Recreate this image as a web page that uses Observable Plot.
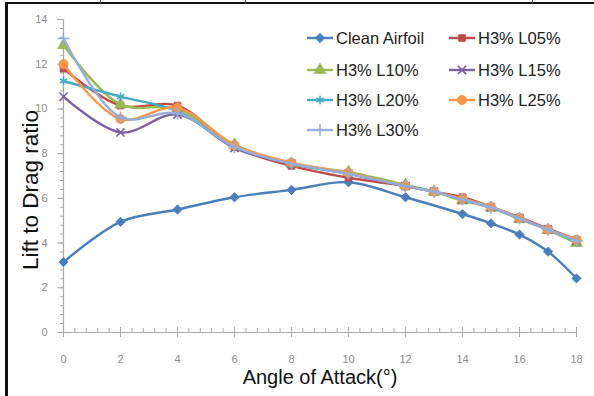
<!DOCTYPE html>
<html>
<head>
<meta charset="utf-8">
<script src="https://cdn.jsdelivr.net/npm/d3@7"></script>
<script src="https://cdn.jsdelivr.net/npm/@observablehq/plot@0.6"></script>
<style>
  body { margin: 0; background: #fff; }
  #wrap { position: relative; width: 594px; height: 396px; overflow: hidden; background: #fff;
          font-family: "Liberation Sans", Arial, sans-serif; }
  #wrap svg.plot { position: absolute; left: 0; top: 0; }
  .frame-top { position: absolute; left: 5px; top: 2px; width: 589px; height: 2px; background: #111; }
  .frame-left { position: absolute; left: 5px; top: 2px; width: 2.5px; height: 394px; background: #111; }
  .frame-tick { position: absolute; top: 0; width: 1px; height: 3px; background: #555; }
  .legend { position: absolute; left: 0; top: 0; }
  .legend .item { position: absolute; display: flex; align-items: center; height: 20px;
                  font-size: 16.5px; color: #222; white-space: nowrap; }
  .legend .item svg { margin-right: 2px; }
</style>
</head>
<body>
<div id="wrap">
  <div class="frame-top"></div>
  <div class="frame-left"></div>
  <div class="frame-tick" style="left:100px"></div>
  <div class="frame-tick" style="left:245px"></div>
  <div class="frame-tick" style="left:532px"></div>
</div>
<script>
// Angle of attack (degrees) sampled for each configuration
const anglesClean = [0, 2, 4, 6, 8, 10, 12, 14, 15, 16, 17, 18];
const anglesFlap  = [0, 2, 4, 6, 8, 10, 12, 13, 14, 15, 16, 17, 18];

// Lift-to-drag ratio per configuration
const cleanAirfoil = [3.15, 4.95, 5.5, 6.05, 6.38, 6.72, 6.05, 5.3, 4.88, 4.38, 3.62, 2.42];
const h3L05 = [11.8, 10.15, 10.15, 8.3, 7.45, 6.92, 6.55, 6.3, 6.05, 5.62, 5.15, 4.65, 4.15];
const h3L10 = [12.85, 10.2, 10.0, 8.4, 7.55, 7.18, 6.6, 6.3, 5.9, 5.58, 5.08, 4.58, 4.0];
const h3L15 = [10.55, 8.95, 9.75, 8.25, 7.55, 7.1, 6.55, 6.3, 5.95, 5.6, 5.1, 4.6, 4.1];
const h3L20 = [11.25, 10.55, 9.9, 8.35, 7.55, 7.1, 6.55, 6.3, 5.95, 5.6, 5.1, 4.6, 4.1];
const h3L25 = [12.0, 9.55, 10.05, 8.38, 7.6, 7.14, 6.55, 6.3, 5.98, 5.62, 5.12, 4.6, 4.15];
const h3L30 = [13.15, 9.62, 9.8, 8.3, 7.55, 7.1, 6.55, 6.3, 5.95, 5.6, 5.1, 4.6, 4.1];

const seriesNames   = ["Clean Airfoil", "H3% L05%", "H3% L10%", "H3% L15%", "H3% L20%", "H3% L25%", "H3% L30%"];
const seriesValues  = [cleanAirfoil, h3L05, h3L10, h3L15, h3L20, h3L25, h3L30];
const seriesAngles  = [anglesClean, anglesFlap, anglesFlap, anglesFlap, anglesFlap, anglesFlap, anglesFlap];
const seriesColors  = ["#4a7ebb", "#be4b48", "#98b954", "#7d60a0", "#46aac5", "#f79646", "#95add9"];
const seriesSymbols = ["diamond2", "square", "triangle", "times", "asterisk", "circle", "plus"];
const symbolFilled  = [true, true, true, false, false, true, false];
const symbolRadius  = [4.2, 3.8, 4.4, 3.8, 4.0, 4.6, 4.0];

const yTicks = [0, 2, 4, 6, 8, 10, 12, 14];
const xTicks = [0, 2, 4, 6, 8, 10, 12, 14, 16, 18];
const yMinorTicks = d3.range(0, 14.001, 0.4);
const xMinorTicks = d3.range(0, 18.001, 0.4);

const xTitle = "Angle of Attack(°)";
const yTitle = "Lift to Drag ratio";

const axisGray = "#a9a9a9";
const labelGray = "#8a8a8a";

// one record per plotted point
const series = seriesNames.map((name, i) => ({
  name,
  color: seriesColors[i],
  symbol: seriesSymbols[i],
  filled: symbolFilled[i],
  r: symbolRadius[i],
  points: seriesAngles[i].map((a, j) => ({ name, angle: a, ratio: seriesValues[i][j] }))
}));

const dataMarks = series.flatMap(s => [
  Plot.line(s.points, { x: "angle", y: "ratio", stroke: s.color, strokeWidth: 2.4, curve: "catmull-rom" }),
  Plot.dot(s.points, {
    x: "angle", y: "ratio", symbol: () => s.symbol, r: s.r,
    fill: s.filled ? s.color : "none",
    stroke: s.color, strokeWidth: s.filled ? 0.8 : 1.6
  })
]);

const chart = Plot.plot({
  width: 594,
  height: 396,
  marginLeft: 63,
  marginRight: 18,
  marginTop: 19,
  marginBottom: 64,
  style: { fontFamily: "Liberation Sans, Arial, sans-serif", background: "transparent" },
  x: { domain: [0, 18] },
  y: { domain: [0, 14] },
  symbol: { type: "identity" },
  marks: [
    // axis lines
    Plot.ruleX([0], { stroke: axisGray, strokeWidth: 1.2 }),
    Plot.ruleY([0], { stroke: axisGray, strokeWidth: 1.2 }),
    // y axis: minor and major ticks with labels
    Plot.axisY({ ticks: yMinorTicks, tickSize: 3, tickFormat: () => "", stroke: axisGray, label: null }),
    Plot.axisY({ ticks: yTicks, tickSize: 6, tickPadding: 10, fontSize: 11, color: labelGray, stroke: axisGray, label: null }),
    // x axis: upward minor ticks, crossing major ticks, labels
    Plot.ruleX(xMinorTicks, { x: d => d, y1: 0, y2: 0, insetTop: -4, stroke: axisGray }),
    Plot.ruleX(xTicks, { x: d => d, y1: 0, y2: 0, insetTop: -5, stroke: axisGray }),
    Plot.axisX({ ticks: xTicks, tickSize: 5, tickPadding: 18, fontSize: 11, color: labelGray, stroke: axisGray, label: null }),
    // axis titles
    Plot.text([yTitle], { frameAnchor: "left", textAnchor: "middle", rotate: -90, dx: -33, dy: 14, fontSize: 22.5, fill: "#111", text: d => d }),
    Plot.text([xTitle], { frameAnchor: "bottom", textAnchor: "middle", dy: 51, fontSize: 20, fill: "#111", text: d => d }),
    ...dataMarks
  ]
});
chart.classList.add("plot");
const wrap = document.getElementById("wrap");
wrap.insertBefore(chart, wrap.firstChild);

// legend in the upper right of the plot area, two columns
const legend = document.createElement("div");
legend.className = "legend";
const colLeft = [307, 449];
const rowTop = [28, 60, 90, 120];
const symbolTypes = {
  diamond2: d3.symbolDiamond2, square: d3.symbolSquare, triangle: d3.symbolTriangle,
  times: d3.symbolTimes, asterisk: d3.symbolAsterisk, circle: d3.symbolCircle, plus: d3.symbolPlus
};
series.forEach((s, i) => {
  const item = document.createElement("div");
  item.className = "item";
  item.style.left = colLeft[i % 2] + "px";
  item.style.top = rowTop[Math.floor(i / 2)] + "px";
  const sw = d3.create("svg").attr("width", 27).attr("height", 14);
  sw.append("line").attr("x1", 0).attr("x2", 26).attr("y1", 7).attr("y2", 7)
    .attr("stroke", s.color).attr("stroke-width", 2.4);
  sw.append("path")
    .attr("transform", "translate(13,7)")
    .attr("d", d3.symbol(symbolTypes[s.symbol], Math.PI * s.r * s.r)())
    .attr("fill", s.filled ? s.color : "none")
    .attr("stroke", s.color).attr("stroke-width", s.filled ? 0.8 : 1.6);
  item.appendChild(sw.node());
  const label = document.createElement("span");
  label.textContent = s.name;
  item.appendChild(label);
  legend.appendChild(item);
});
wrap.appendChild(legend);
</script>
</body>
</html>
